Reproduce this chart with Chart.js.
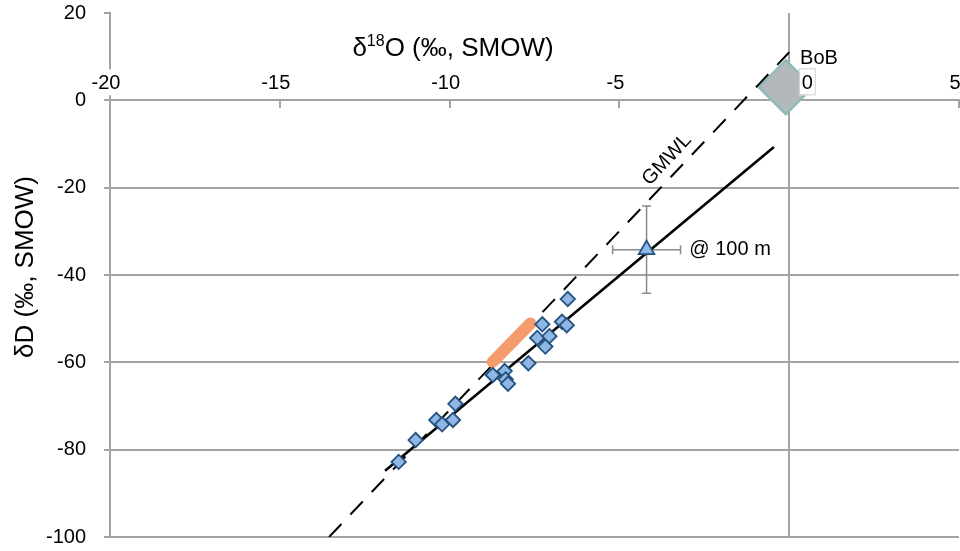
<!DOCTYPE html>
<html>
<head>
<meta charset="utf-8">
<script src="https://cdn.jsdelivr.net/npm/chart.js@4"></script>
<style>
  body { margin: 0; background: #fff; }
  canvas { display: block; }
</style>
</head>
<body>
<canvas id="isoGraph" width="960" height="551"></canvas>
<script>
// samples (d18O, dD)
const sampleO = [-11.5, -11.0, -10.39, -10.22, -9.9, -9.83, -8.73, -8.38, -8.35, -8.28, -7.68, -7.42, -7.27, -7.18, -7.06, -6.69, -6.55, -6.52];
const sampleD = [-82.8, -77.8, -73.2, -74.2, -73.2, -69.5, -62.9, -62.0, -63.9, -64.9, -60.2, -54.4, -51.3, -56.4, -54.0, -50.7, -51.5, -45.5];

// @ 100 m with error bars
const deepO = [-4.2];
const deepD = [-34.2];
const deepErrO = [1.0];
const deepErrD = [10];

// Bay of Bengal
const bobO = [-0.1];
const bobD = [3.0];

// local line, GMWL, orange band
const lineO = [-11.9, -0.45];
const lineD = [-84.8, -10.7];
const gmwlO = [-13.55, 0];
const gmwlD = [-100, 11];
const bandO = [-8.73, -7.62];
const bandD = [-59.9, -51.1];

// ticks
const xTicks = [-20, -15, -10, -5, 0, 5];
const yTicks = [-100, -80, -60, -40, -20, 0, 20];

const FONT = "'Liberation Sans', Arial, sans-serif";
const GRID = '#a3a3a3';

const pts = (xs, ys) => xs.map((x, i) => ({ x: x, y: ys[i] }));

const errorBars = {
  id: 'errorBars',
  beforeDatasetsDraw(chart) {
    const xs = chart.scales.x, ys = chart.scales.y, c = chart.ctx;
    c.save();
    c.strokeStyle = '#8a8a8a';
    c.lineWidth = 1.5;
    deepO.forEach((o, i) => {
      const x0 = xs.getPixelForValue(o - deepErrO[i]), x1 = xs.getPixelForValue(o + deepErrO[i]);
      const y0 = ys.getPixelForValue(deepD[i] - deepErrD[i]), y1 = ys.getPixelForValue(deepD[i] + deepErrD[i]);
      const px = xs.getPixelForValue(o), py = ys.getPixelForValue(deepD[i]);
      c.beginPath();
      c.moveTo(x0, py); c.lineTo(x1, py);
      c.moveTo(px, y0); c.lineTo(px, y1);
      c.moveTo(x0, py - 4.5); c.lineTo(x0, py + 4.5);
      c.moveTo(x1, py - 4.5); c.lineTo(x1, py + 4.5);
      c.moveTo(px - 4.5, y0); c.lineTo(px + 4.5, y0);
      c.moveTo(px - 4.5, y1); c.lineTo(px + 4.5, y1);
      c.stroke();
    });
    c.restore();
  }
};

const labels = {
  id: 'labels',
  afterDraw(chart) {
    const xs = chart.scales.x, ys = chart.scales.y, c = chart.ctx;
    const y0 = ys.getPixelForValue(0);
    c.save();
    c.font = '20px ' + FONT;
    c.textBaseline = 'middle';
    c.textAlign = 'center';
    // x tick labels above the axis
    xTicks.forEach(v => {
      const px = xs.getPixelForValue(v) + (v === 0 ? 18 : -4);
      const w = c.measureText(String(v)).width;
      c.fillStyle = '#fff';
      c.fillRect(px - w / 2 - 2, y0 - 31, w + 4, 26);
      if (v === 0) {
        c.strokeStyle = '#d0d0d0';
        c.lineWidth = 1;
        c.strokeRect(px - w / 2 - 2.5, y0 - 31.5, w + 5, 26);
      }
      c.fillStyle = '#000';
      c.fillText(String(v), px, y0 - 17);
    });

    // axis titles
    c.font = '26px ' + FONT;
    const a = 'δ', sup = '18', b = 'O (‰, SMOW)';
    const wa = c.measureText(a).width, wb = c.measureText(b).width;
    c.font = '16px ' + FONT;
    const ws = c.measureText(sup).width;
    let tx = 453 - (wa + ws + wb) / 2;
    c.textAlign = 'left';
    c.font = '26px ' + FONT;
    c.fillText(a, tx, 49);
    c.font = '16px ' + FONT;
    c.fillText(sup, tx + wa, 42);
    c.font = '26px ' + FONT;
    c.fillText(b, tx + wa + ws, 49);

    c.save();
    c.translate(26, 267);
    c.rotate(-Math.PI / 2);
    c.textAlign = 'center';
    c.fillText('δD (‰, SMOW)', 0, 0);
    c.restore();

    // annotations
    c.font = '20px ' + FONT;
    c.textAlign = 'left';
    c.fillText('BoB', xs.getPixelForValue(0.32), ys.getPixelForValue(9.5));
    c.fillText('@ 100 m', xs.getPixelForValue(-2.94), ys.getPixelForValue(-34.2));
    c.save();
    c.translate(xs.getPixelForValue(-3.6), ys.getPixelForValue(-13.6));
    c.rotate(-47 * Math.PI / 180);
    c.textAlign = 'center';
    c.fillText('GMWL', 0, 0);
    c.restore();
    c.restore();
  }
};

const ctxIso = document.getElementById('isoGraph');

new Chart(ctxIso, {
  type: 'scatter',
  data: {
    datasets: [
      {
        label: 'samples',
        data: pts(sampleO, sampleD),
        pointStyle: 'rectRot',
        pointRadius: 7.2,
        backgroundColor: '#8fb6e4',
        borderColor: '#24527f',
        borderWidth: 1.8
      },
      {
        label: '@ 100 m',
        data: pts(deepO, deepD),
        pointStyle: 'triangle',
        pointRadius: 9,
        backgroundColor: '#8fb6e4',
        borderColor: '#24527f',
        borderWidth: 1.8
      },
      {
        label: 'band',
        data: pts(bandO, bandD),
        showLine: true,
        borderColor: '#f59c6c',
        borderWidth: 12,
        borderCapStyle: 'round',
        pointRadius: 0
      },
      {
        label: 'line',
        data: pts(lineO, lineD),
        showLine: true,
        borderColor: '#000',
        borderWidth: 2.6,
        pointRadius: 0
      },
      {
        label: 'GMWL',
        data: pts(gmwlO, gmwlD),
        showLine: true,
        borderColor: '#000',
        borderWidth: 2,
        borderDash: [18, 13],
        pointRadius: 0
      },
      {
        label: 'BoB',
        data: pts(bobO, bobD),
        pointStyle: 'rectRot',
        pointRadius: 27,
        backgroundColor: '#b3b9ba',
        borderColor: '#8fbaba',
        borderWidth: 2.5
      }
    ]
  },
  options: {
    responsive: false,
    animation: false,
    devicePixelRatio: 1,
    events: [],
    layout: { autoPadding: false, padding: { top: 13, right: 1, bottom: 14, left: 0 } },
    plugins: {
      legend: { display: false },
      tooltip: { enabled: false }
    },
    scales: {
      x: {
        type: 'linear',
        min: -20,
        max: 5,
        position: { y: 0 },
        afterBuildTicks: s => { s.ticks = xTicks.map(v => ({ value: v })); },
        afterFit: s => { s.height = 0; s.paddingLeft = 0; s.paddingRight = 0; s.paddingTop = 0; s.paddingBottom = 0; },
        ticks: { display: false },
        grid: {
          color: c => (c.tick && c.tick.value === 0 ? GRID : 'transparent'),
          lineWidth: 2,
          drawTicks: true,
          tickLength: 7,
          tickColor: GRID,
          tickWidth: 2
        },
        border: { color: GRID, width: 2 }
      },
      y: {
        type: 'linear',
        min: -100,
        max: 20,
        position: 'left',
        afterBuildTicks: s => { s.ticks = yTicks.map(v => ({ value: v })); },
        afterFit: s => { s.width = 110; s.paddingTop = 0; s.paddingBottom = 0; },
        ticks: {
          color: '#000',
          padding: 18,
          font: { family: FONT, size: 20 }
        },
        grid: {
          color: c => (c.tick && c.tick.value < 0 ? GRID : 'transparent'),
          lineWidth: 2,
          tickLength: 6,
          tickColor: GRID,
          tickWidth: 2
        },
        border: { color: GRID, width: 2 }
      }
    }
  },
  plugins: [errorBars, labels]
});
</script>
</body>
</html>
